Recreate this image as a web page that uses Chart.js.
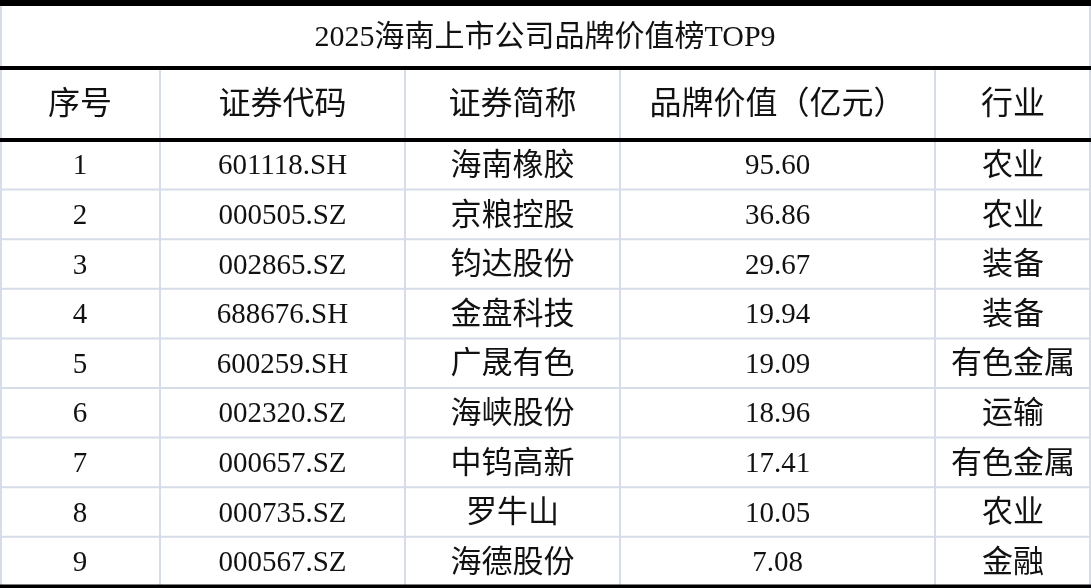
<!DOCTYPE html>
<html>
<head>
<meta charset="utf-8">
<script src="https://cdn.jsdelivr.net/npm/chart.js@4.4.1/dist/chart.umd.min.js"></script>
<style>
  html, body { margin: 0; padding: 0; background: #fff; }
  #wrap { width: 1091px; height: 588px; }
</style>
</head>
<body>
<div id="wrap"><canvas id="myChart"></canvas></div>
<script>
/* 표 데이터 */
let title = '2025海南上市公司品牌价值榜TOP9';
let headers = ['序号', '证券代码', '证券简称', '品牌价值（亿元）', '行业'];
let ranks = ['1', '2', '3', '4', '5', '6', '7', '8', '9'];
let codes = ['601118.SH', '000505.SZ', '002865.SZ', '688676.SH', '600259.SH', '002320.SZ', '000657.SZ', '000735.SZ', '000567.SZ'];
let names = ['海南橡胶', '京粮控股', '钧达股份', '金盘科技', '广晟有色', '海峡股份', '中钨高新', '罗牛山', '海德股份'];
let values = [95.60, 36.86, 29.67, 19.94, 19.09, 18.96, 17.41, 10.05, 7.08];
let industries = ['农业', '农业', '装备', '装备', '有色金属', '运输', '有色金属', '农业', '金融'];

/* 레이아웃 */
let colEdges = [0, 160, 405, 620, 935, 1091];
let titleTop = 3, titleBottom = 68, headBottom = 140, rowH = 49.6;
let FONT = '"Liberation Serif", "Noto Sans CJK SC", serif';

let tablePlugin = {
    id: 'tablePlugin',
    afterDraw: function (chart) {
        let ctx = chart.ctx;
        let xs = chart.scales.x;
        let ys = chart.scales.y;
        let X = function (v) { return xs.getPixelForValue(v); };
        let Y = function (v) { return ys.getPixelForValue(v); };
        let bottom = headBottom + rowH * ranks.length;

        ctx.save();
        // 얇은 선
        ctx.strokeStyle = '#d6dde8';
        ctx.lineWidth = 2;
        ctx.beginPath();
        ctx.moveTo(X(1), Y(titleTop)); ctx.lineTo(X(1), Y(bottom));
        ctx.moveTo(X(1090), Y(titleTop)); ctx.lineTo(X(1090), Y(bottom));
        for (let i = 1; i < colEdges.length - 1; i++) {
            ctx.moveTo(X(colEdges[i]), Y(titleBottom)); ctx.lineTo(X(colEdges[i]), Y(bottom));
        }
        for (let r = 1; r < ranks.length; r++) {
            let yy = headBottom + rowH * r;
            ctx.moveTo(X(0), Y(yy)); ctx.lineTo(X(1091), Y(yy));
        }
        ctx.stroke();

        // 굵은 선
        ctx.strokeStyle = '#000';
        ctx.lineWidth = 4;
        ctx.beginPath();
        [titleBottom, headBottom, bottom].forEach(function (yy) {
            ctx.moveTo(X(0), Y(yy)); ctx.lineTo(X(1091), Y(yy));
        });
        ctx.stroke();
        ctx.lineWidth = 6;
        ctx.beginPath();
        ctx.moveTo(X(0), Y(titleTop)); ctx.lineTo(X(1091), Y(titleTop));
        ctx.stroke();

        ctx.fillStyle = '#111';
        ctx.textAlign = 'center';
        ctx.textBaseline = 'middle';
        ctx.font = '30px ' + FONT;
        ctx.fillText(title, X(545), Y((titleTop + titleBottom) / 2 + 3));

        ctx.font = '32px ' + FONT;
        for (let c = 0; c < headers.length; c++) {
            ctx.fillText(headers[c], X((colEdges[c] + colEdges[c + 1]) / 2), Y((titleBottom + headBottom) / 2 + 2));
        }

        for (let r = 0; r < ranks.length; r++) {
            let cy = Y(headBottom + rowH * (r + 0.5) + 2);
            let cells = [ranks[r], codes[r], names[r], values[r].toFixed(2), industries[r]];
            for (let c = 0; c < cells.length; c++) {
                ctx.font = (c === 2 || c === 4 ? '31px ' : '29px ') + FONT;
                ctx.fillText(cells[c], X((colEdges[c] + colEdges[c + 1]) / 2), cy);
            }
        }
        ctx.restore();
    }
};

let ctx = document.getElementById('myChart').getContext('2d');
let myChart = new Chart(ctx, {
    type: 'scatter',
    data: { datasets: [{ data: [], pointRadius: 0 }] },
    options: {
        responsive: true,
        maintainAspectRatio: false,
        animation: false,
        layout: { padding: 0 },
        scales: {
            x: { type: 'linear', min: 0, max: 1091, display: false },
            y: { type: 'linear', min: 0, max: 588, reverse: true, display: false }
        },
        plugins: { legend: { display: false }, tooltip: { enabled: false } }
    },
    plugins: [tablePlugin]
});
</script>
</body>
</html>
